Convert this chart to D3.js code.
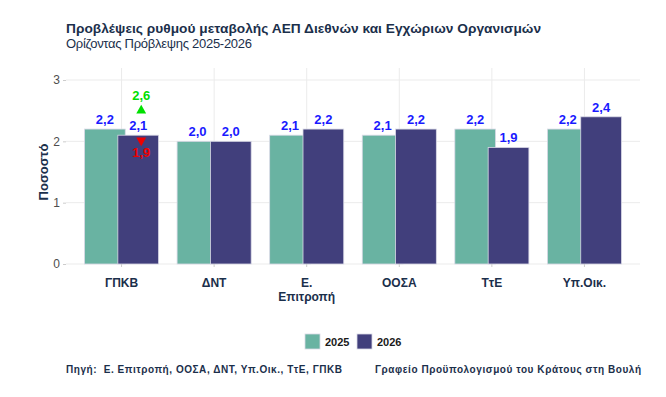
<!DOCTYPE html>
<html>
<head>
<meta charset="utf-8">
<script src="https://cdn.jsdelivr.net/npm/d3@7"></script>
<style>
  body { margin: 0; background: #fff; }
  text { font-family: "Liberation Sans", Arial, sans-serif; }
</style>
</head>
<body>
<div id="chart"></div>
<script>
// data
const categories = ["ΓΠΚΒ", "ΔΝΤ", "Ε. Επιτροπή", "ΟΟΣΑ", "ΤτΕ", "Υπ.Οικ."];
const years = ["2025", "2026"];
const values2025 = [2.2, 2.0, 2.1, 2.1, 2.2, 2.2];
const values2026 = [2.1, 2.0, 2.2, 2.2, 1.9, 2.4];
const yTicks = [0, 1, 2, 3];
// range of the ΓΠΚΒ 2026 forecast
const rangeCat = "ΓΠΚΒ";
const rangeHigh = 2.6;
const rangeLow = 1.9;

const width = 666, height = 397;
const margin = { top: 80, right: 26, bottom: 133, left: 66 };
const navy = "#1b2f4b";
const colors = { "2025": "#69b3a2", "2026": "#413f7c" };

const svg = d3.select("#chart").append("svg")
  .attr("width", width)
  .attr("height", height);

const x = d3.scaleBand()
  .domain(categories)
  .range([margin.left, width - margin.right])
  .paddingOuter(0.1)
  .paddingInner(0);

const y = d3.scaleLinear()
  .domain([0, 3])
  .range([height - margin.bottom, margin.top]);

// grid
const grid = svg.append("g");
grid.selectAll(".hg").data(yTicks).join("line")
  .attr("x1", margin.left).attr("x2", width - margin.right)
  .attr("y1", d => y(d)).attr("y2", d => y(d))
  .attr("stroke", "#ebebeb");
grid.selectAll(".vg").data(categories).join("line")
  .attr("x1", d => x(d) + x.bandwidth() / 2).attr("x2", d => x(d) + x.bandwidth() / 2)
  .attr("y1", margin.top - 12).attr("y2", height - margin.bottom)
  .attr("stroke", "#ebebeb");

// bars
const rows = [];
categories.forEach((c, i) => {
  rows.push({ cat: c, year: "2025", value: values2025[i] });
  rows.push({ cat: c, year: "2026", value: values2026[i] });
});
const bw = x.bandwidth() * 0.44;
const off = x.bandwidth() * 0.18;
const cx = d => x(d.cat) + x.bandwidth() / 2 + (d.year === "2025" ? -off : off);

svg.append("g").selectAll("rect").data(rows).join("rect")
  .attr("x", d => cx(d) - bw / 2)
  .attr("width", bw)
  .attr("y", d => y(d.value))
  .attr("height", d => y(0) - y(d.value))
  .attr("fill", d => colors[d.year])
  .attr("stroke", "#d9d9e6")
  .attr("stroke-width", 0.8);

const fmt = v => d3.format(".1f")(v).replace(".", ",");

svg.append("g").selectAll("text").data(rows).join("text")
  .attr("x", cx)
  .attr("y", d => y(d.value) - 5)
  .attr("text-anchor", "middle")
  .attr("font-size", 13)
  .attr("font-weight", "bold")
  .attr("fill", "#1a1aff")
  .text(d => fmt(d.value));

// range markers
const rx = x(rangeCat) + x.bandwidth() / 2 + off + 3;
const tri = d3.symbol().type(d3.symbolTriangle).size(42);
svg.append("path")
  .attr("d", tri())
  .attr("transform", `translate(${rx},${y(rangeHigh) + 6})`)
  .attr("fill", "#00e000");
svg.append("text")
  .attr("x", rx).attr("y", y(rangeHigh) - 5)
  .attr("text-anchor", "middle").attr("font-size", 13).attr("font-weight", "bold")
  .attr("fill", "#00e000")
  .text(fmt(rangeHigh));
svg.append("path")
  .attr("d", tri())
  .attr("transform", `translate(${rx},${y(rangeLow) - 7}) rotate(180)`)
  .attr("fill", "#ee0000");
svg.append("text")
  .attr("x", rx).attr("y", y(rangeLow) + 10)
  .attr("text-anchor", "middle").attr("font-size", 13).attr("font-weight", "bold")
  .attr("fill", "#ee0000")
  .text(fmt(rangeLow));

// y axis
const yAxis = svg.append("g")
  .attr("transform", `translate(${margin.left},0)`)
  .call(d3.axisLeft(y).tickValues(yTicks).tickFormat(d3.format("d")).tickSize(3).tickPadding(3));
yAxis.select(".domain").remove();
yAxis.selectAll("line").attr("stroke", "#ccc");
yAxis.selectAll("text").attr("font-size", 12).attr("fill", "#4d4d4d")
  .style("font-family", "'Liberation Sans', Arial, sans-serif");

// x axis
const xAxis = svg.append("g")
  .attr("transform", `translate(0,${y(0)})`)
  .call(d3.axisBottom(x).tickSize(3).tickPadding(6));
xAxis.select(".domain").remove();
xAxis.selectAll("line").attr("stroke", "#ccc");
xAxis.selectAll("text").remove();
xAxis.selectAll(".tick").append("text")
  .attr("text-anchor", "middle")
  .attr("font-size", 12)
  .attr("font-weight", "bold")
  .attr("fill", navy)
  .selectAll("tspan")
  .data(d => d.split(" "))
  .join("tspan")
  .attr("x", 0)
  .attr("y", (d, i) => 23 + i * 14)
  .text(d => d);

// y title
svg.append("text")
  .attr("transform", `translate(48,${(y(0) + y(3)) / 2}) rotate(-90)`)
  .attr("text-anchor", "middle")
  .attr("font-size", 13)
  .attr("font-weight", "bold")
  .attr("fill", navy)
  .text("Ποσοστό");

// titles
svg.append("text")
  .attr("x", 66).attr("y", 33)
  .attr("font-size", 13.7).attr("font-weight", "bold").attr("fill", navy)
  .attr("textLength", 475)
  .text("Προβλέψεις ρυθμού μεταβολής ΑΕΠ Διεθνών και Εγχώριων Οργανισμών");
svg.append("text")
  .attr("x", 66).attr("y", 47.5)
  .attr("font-size", 13).attr("fill", navy)
  .attr("textLength", 186)
  .text("Ορίζοντας Πρόβλεψης 2025-2026");

// legend
const legend = svg.append("g").attr("transform", "translate(305,334)");
years.forEach((yr, i) => {
  const g = legend.append("g").attr("transform", `translate(${i * 52},0)`);
  g.append("rect").attr("width", 15).attr("height", 15)
    .attr("fill", colors[yr]).attr("stroke", "#d9d9e6").attr("stroke-width", 0.8);
  g.append("text").attr("x", 20).attr("y", 12)
    .attr("font-size", 11).attr("font-weight", "bold").attr("fill", "#1a1a1a")
    .text(yr);
});

// caption
svg.append("text")
  .attr("x", 66).attr("y", 373)
  .attr("font-size", 10).attr("font-weight", "bold").attr("fill", navy)
  .attr("textLength", 276)
  .attr("xml:space", "preserve")
  .text("Πηγή:  Ε. Επιτροπή, ΟΟΣΑ, ΔΝΤ, Υπ.Οικ., ΤτΕ, ΓΠΚΒ");
svg.append("text")
  .attr("x", 375).attr("y", 373)
  .attr("font-size", 10).attr("font-weight", "bold").attr("fill", navy)
  .attr("textLength", 266)
  .text("Γραφείο Προϋπολογισμού του Κράτους στη Βουλή");
</script>
</body>
</html>
